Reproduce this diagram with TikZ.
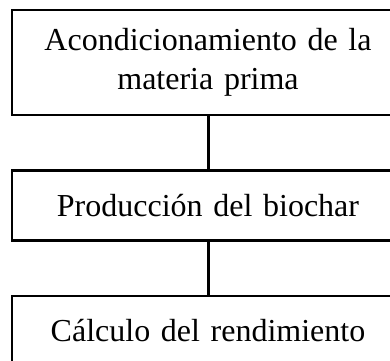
\documentclass[tikz,border=0pt]{standalone}
\usepackage{fontspec}
\setmainfont{Liberation Serif}
\begin{document}
\begin{tikzpicture}[x=1pt,y=-1pt,
  stepbox/.style={draw=black, line width=2.5pt, fill=white, minimum width=392pt,
    text width=380pt, align=center, inner sep=0pt,
    font=\fontsize{32}{38.5}\selectfont},
  link/.style={draw=black, line width=3pt}]
\useasboundingbox (0,0) rectangle (390,360);
\clip (0,0) rectangle (390,360);
\fill[white] (0,0) rectangle (390,360);
\node[stepbox, minimum height=105pt] (b1) at (208,62.5) {Acondicionamiento de la\\materia prima};
\node[stepbox, minimum height=70pt] (b2) at (208,205.5) {Producción del biochar};
\node[stepbox, minimum height=70pt] (b3) at (208,331) {Cálculo del rendimiento};
\draw[link] (b1.south) -- (b2.north);
\draw[link] (b2.south) -- (b3.north);
\end{tikzpicture}
\end{document}
